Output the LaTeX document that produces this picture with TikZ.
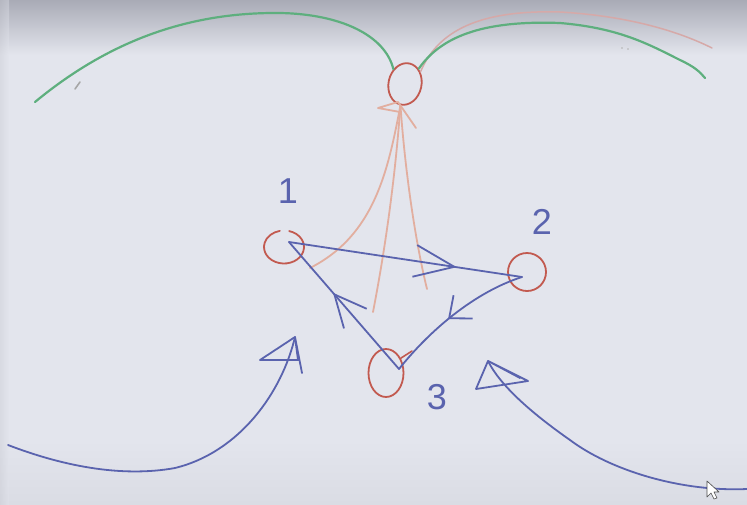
\documentclass[tikz,border=0pt]{standalone}
\usepackage{fontspec}
\setmainfont{Liberation Sans}
\usetikzlibrary{shapes.geometric,arrows.meta,decorations.markings}
\definecolor{bluepen}{HTML}{5A63AE}
\definecolor{redpen}{HTML}{C25A50}
\definecolor{greenpen}{HTML}{5EAF7E}
\definecolor{pinkpen}{HTML}{E2AE9F}
\definecolor{mauvepen}{HTML}{D6A9A8}
\definecolor{boardtop}{HTML}{A9ABB6}
\definecolor{board}{HTML}{E3E5ED}
\definecolor{boardlow}{HTML}{DADCE4}
\begin{document}
\begin{tikzpicture}[x=1pt,y=-1pt,line cap=round,line join=round,
  bluestroke/.style={draw=bluepen,line width=1.8pt},
  greenstroke/.style={draw=greenpen,line width=2.2pt},
  pinkstroke/.style={draw=pinkpen,line width=1.8pt},
  ring/.style={ellipse,draw=redpen,line width=1.8pt,inner sep=0pt},
  lbl/.style={text=bluepen,font=\fontsize{36}{36}\selectfont,inner sep=0pt},
  midarrow/.style args={#1:#2:#3}{postaction={decorate},decoration={markings,
     mark=at position #1 with {\arrow[bluepen,line width=1.8pt]{Straight Barb[length=#2pt,width=#3pt]}}}}]
\useasboundingbox (0,0) rectangle (747,504);
% board
\fill[board] (0,0) rectangle (747,504);
\shade[top color=boardtop,bottom color=board] (0,0) rectangle (747,55);
\shade[top color=board,bottom color=boardlow] (0,440) rectangle (747,504);
\shade[left color=boardlow!92!black,right color=board,opacity=0.4] (0,0) rectangle (9,504);
% top ring and the strokes to it
\node[ring,minimum width=33pt,minimum height=42pt,rotate=-12] (top) at (405,84) {};
\coordinate (gl0) at (35,102);
\coordinate (gr1) at (705,78);
\coordinate (pr1) at (712,48);
\draw[greenstroke] (gl0) .. controls (110,40) and (190,12) .. (280,13)
   .. controls (340,14) and (385,35) .. (top.140);
\draw[draw=mauvepen,line width=1.5pt] (top.50) .. controls (440,25) and (490,10) .. (560,12)
   .. controls (630,16) and (680,32) .. (pr1);
\draw[greenstroke] (top.60) .. controls (440,38) and (480,20) .. (560,23)
   .. controls (620,28) and (650,45) .. (680,60) .. controls (695,67) and (700,72) .. (gr1);
% tiny marks on the board
\draw[gray!70,line width=1.6pt] (75,89) -- (80,82);
\fill[gray!60] (622,48) circle (0.8pt) (628,49) circle (0.8pt);
% pink arrow under the top ring
\coordinate (pa) at (378,108);
\coordinate (pb) at (398,102);
\coordinate (pc) at (416,128);
\draw[pinkstroke] (pa) -- (pb) -- (pc) (pa) -- (400,112);
\coordinate (pe1) at (310,268);
\coordinate (pe2) at (373,312);
\coordinate (pe3) at (427,289);
\draw[pinkstroke] (top.south) .. controls (388,170) and (375,235) .. (pe1);
\draw[pinkstroke] (top.south) .. controls (395,180) and (385,250) .. (pe2);
\draw[pinkstroke] (top.south) .. controls (405,170) and (415,240) .. (pe3);
% rings of the three states
\node[ring,draw=none,minimum width=40pt,minimum height=33pt] (n1) at (284,247) {};
\draw[draw=redpen,line width=1.8pt] (n1.center) ++(-75:20 and 16.5) arc[start angle=-75,end angle=258,x radius=20,y radius=16.5];
\node[ring,minimum width=38pt,minimum height=38pt] (n2) at (527,272) {};
\node[ring,minimum width=35pt,minimum height=48pt] (n3) at (386,373) {};
\draw[draw=redpen,line width=1.6pt] (n3.45) -- (412,351);
% labels
\node[lbl] (l1) at (288,191) {1};
\node[lbl] (l2) at (542,222) {2};
\node[lbl] (l3) at (437,397) {3};
% triangle of transitions
\coordinate (v1) at (289,242);
\coordinate (v2) at (522,277);
\coordinate (v3) at (399,369);
\draw[bluestroke,midarrow=0.72:40:32] (v1) -- (v2);
\draw[bluestroke,midarrow=0.55:18:30] (v2) .. controls (475,292) and (430,330) .. (v3);
\draw[bluestroke,midarrow=0.6:32:30] (v3) -- (v1);
% big arrow bottom left
\coordinate (bl0) at (8,445);
\coordinate (ta) at (295,337);
\coordinate (tb) at (260,360);
\coordinate (tc) at (298,360);
\coordinate (tt) at (302,373);
\draw[bluestroke] (bl0) .. controls (60,465) and (120,478) .. (175,468)
   .. controls (240,452) and (282,392) .. (ta);
\draw[bluestroke] (ta) -- (tb) -- (tc) -- (ta) -- (tt);
% big arrow bottom right
\coordinate (br0) at (747,489);
\coordinate (sa) at (488,361);
\coordinate (sb) at (476,389);
\coordinate (sc) at (528,381);
\draw[bluestroke] (br0) .. controls (680,492) and (610,470) .. (570,440)
   .. controls (530,412) and (500,385) .. (sa);
\draw[bluestroke] (sa) -- (sb) -- (sc) -- (sa) -- (520,378);
% mouse pointer
\coordinate (m0) at (707,481);
\draw[fill=white,draw=gray!60!black,line width=0.6pt] (m0) -- (707,497) -- (711,493) -- (714,499)
  -- (717,498) -- (714,492) -- (719,492) -- cycle;
\end{tikzpicture}
\end{document}
